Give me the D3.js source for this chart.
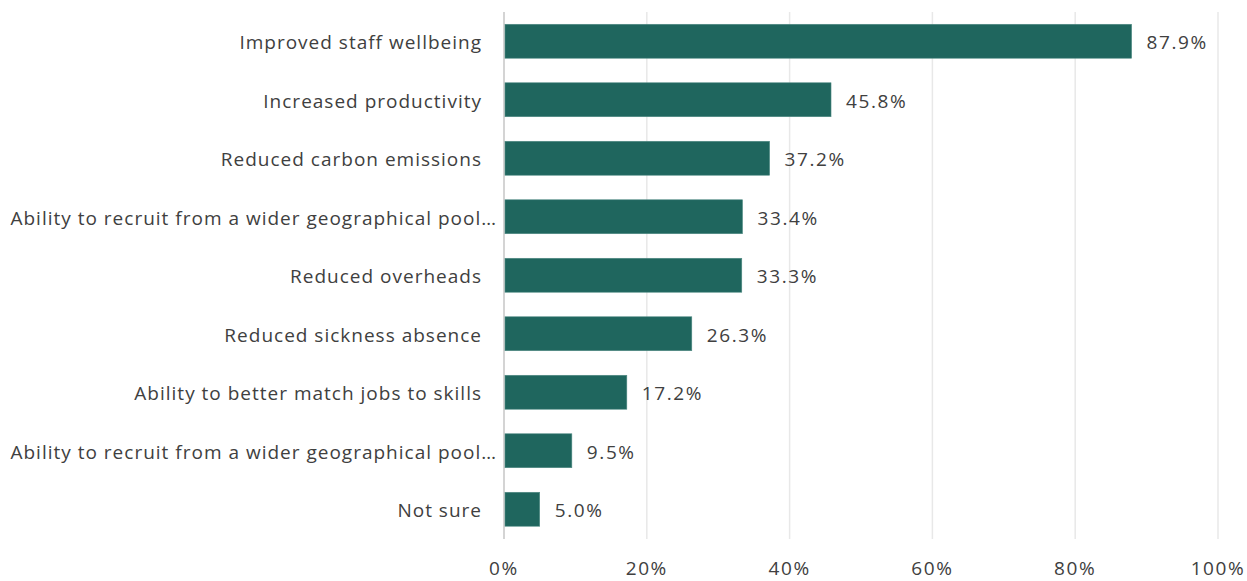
<!DOCTYPE html>
<html>
<head>
<meta charset="utf-8">
<script src="https://cdn.jsdelivr.net/npm/d3@7.9.0/dist/d3.min.js"></script>
<style>
  body { margin: 0; background: #fff; }
  svg text { font-family: "Open Sans", sans-serif; fill: #404040; letter-spacing: 1px; }
</style>
</head>
<body>
<svg id="chart" width="1247" height="581"></svg>
<script>
// data
const categories = [
  'Improved staff wellbeing',
  'Increased productivity',
  'Reduced carbon emissions',
  'Ability to recruit from a wider geographical pool…',
  'Reduced overheads',
  'Reduced sickness absence',
  'Ability to better match jobs to skills',
  'Ability to recruit from a wider geographical pool…',
  'Not sure'
];
const values = [87.9, 45.8, 37.2, 33.4, 33.3, 26.3, 17.2, 9.5, 5.0];
const ticks = [0, 20, 40, 60, 80, 100];

const svg = d3.select('#chart');
const x = d3.scaleLinear().domain([0, 100]).range([504, 1218]);
const y = d3.scaleBand().domain(d3.range(categories.length)).range([12, 538.5]).paddingInner(0.42).paddingOuter(0.21);

// gridlines
svg.append('g')
  .selectAll('line')
  .data(ticks)
  .join('line')
  .attr('x1', d => x(d)).attr('x2', d => x(d))
  .attr('y1', 12).attr('y2', 539)
  .attr('stroke', d => d === 0 ? '#d4d4d4' : '#e8e8e8')
  .attr('stroke-width', d => d === 0 ? 2 : 1.5);

// bars
svg.append('g')
  .selectAll('rect')
  .data(values)
  .join('rect')
  .attr('x', x(0) + 1)
  .attr('y', (d, i) => y(i))
  .attr('width', d => x(d) - x(0) - 1)
  .attr('height', y.bandwidth())
  .attr('fill', '#1f665e')
  .attr('stroke', '#4f8a83')
  .attr('stroke-width', 0.6);

// value labels
svg.append('g')
  .selectAll('text')
  .data(values)
  .join('text')
  .attr('x', d => x(d) + 15)
  .attr('y', (d, i) => y(i) + y.bandwidth() / 2 + 1)
  .attr('dy', '0.36em')
  .attr('font-size', 19)
  .style('letter-spacing', '1.6px')
  .text(d => d.toFixed(1) + '%');

// category labels
svg.append('g')
  .selectAll('text')
  .data(categories)
  .join('text')
  .attr('x', d => d.endsWith('…') ? 497 : 482)
  .attr('y', (d, i) => y(i) + y.bandwidth() / 2 + 1)
  .attr('dy', '0.36em')
  .attr('text-anchor', 'end')
  .attr('font-size', 19)
  .text(d => d);

// x axis tick labels
svg.append('g')
  .selectAll('text')
  .data(ticks)
  .join('text')
  .attr('x', d => x(d))
  .attr('y', 575)
  .attr('text-anchor', 'middle')
  .attr('font-size', 19)
  .style('letter-spacing', '1.6px')
  .text(d => d + '%');
</script>
</body>
</html>
